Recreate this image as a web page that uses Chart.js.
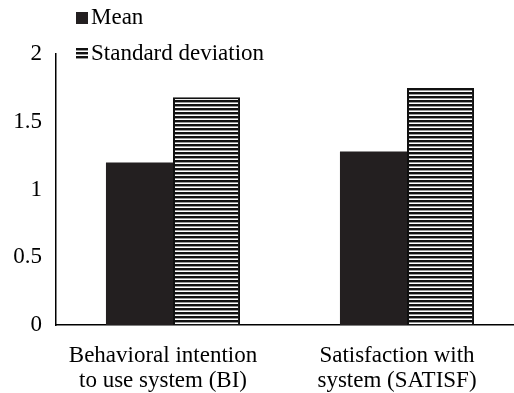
<!DOCTYPE html>
<html>
<head>
<meta charset="utf-8">
<script src="https://cdn.jsdelivr.net/npm/chart.js@4/dist/chart.umd.min.js"></script>
<style>
  html, body { margin: 0; padding: 0; background: #fff; overflow: hidden; }
  #chart { display: block; }
</style>
</head>
<body>
<canvas id="chart" width="524" height="393"></canvas>
<script>
const CATEGORIES = [
  ['Behavioral intention', 'to use system (BI)'],
  ['Satisfaction with', 'system (SATISF)'],
];
const MEAN_VALUES = [1.2, 1.28];
const SD_VALUES = [1.68, 1.75];
const Y_TICKS = [0, 0.5, 1, 1.5, 2];

const MEAN_COLOR = '#231f20';
const FONT = { family: '"Liberation Serif", "Times New Roman", serif', size: 23, lineHeight: 1.1 };

// horizontal stripes for the standard deviation bars
const makeStripes = () => {
  const c = document.createElement('canvas');
  c.width = 8;
  c.height = 4;
  const g = c.getContext('2d');
  g.fillStyle = '#fff';
  g.fillRect(0, 0, 8, 4);
  g.fillStyle = '#111';
  g.fillRect(0, 0, 8, 2);
  g.fillStyle = '#999';
  g.fillRect(0, 2, 8, 1);
  return g.createPattern(c, 'repeat');
};

const stripes = makeStripes();

// stacked legend sitting over the top-left of the plot
const stackedLegend = {
  id: 'stackedLegend',
  afterDraw(chart) {
    const { ctx, chartArea } = chart;
    const x = chartArea.left + 20;
    ctx.save();
    ctx.font = `${FONT.size}px ${FONT.family}`;
    ctx.textBaseline = 'middle';
    chart.data.datasets.forEach((ds, i) => {
      const y = chartArea.top - 36 + i * 36;
      ctx.fillStyle = ds.backgroundColor;
      ctx.fillRect(x, y - 6, 12, 12);
      ctx.fillStyle = '#000';
      ctx.fillText(ds.label, x + 15, y);
    });
    ctx.restore();
  },
};

const ctx = document.getElementById('chart').getContext('2d');

new Chart(ctx, {
  type: 'bar',
  data: {
    labels: CATEGORIES,
    datasets: [
      {
        label: 'Mean',
        data: MEAN_VALUES,
        backgroundColor: MEAN_COLOR,
        borderWidth: 0,
      },
      {
        label: 'Standard deviation',
        data: SD_VALUES,
        backgroundColor: stripes,
        borderColor: '#111',
        borderWidth: 2,
        borderSkipped: 'bottom',
      },
    ],
  },
  options: {
    responsive: false,
    animation: false,
    devicePixelRatio: 1,
    layout: { padding: { top: 54, left: 0, right: 0, bottom: 0 } },
    categoryPercentage: 0.573,
    barPercentage: 1,
    plugins: {
      legend: { display: false },
      tooltip: { enabled: false },
    },
    scales: {
      x: {
        grid: { display: false, drawTicks: false },
        border: { display: true, color: '#000', width: 1.5 },
        ticks: { color: '#000', font: FONT, padding: 18, maxRotation: 0, labelOffset: -10 },
        afterFit: (scale) => { scale.height = 68; },
      },
      y: {
        min: 0,
        max: 2,
        afterBuildTicks: (scale) => { scale.ticks = Y_TICKS.map((v) => ({ value: v })); },
        grid: { display: false, drawTicks: false },
        border: { display: true, color: '#000', width: 1.5 },
        ticks: { color: '#000', font: FONT, padding: 14, callback: (v) => String(v) },
        afterFit: (scale) => { scale.width = 56; },
      },
    },
  },
  plugins: [stackedLegend],
});
</script>
</body>
</html>
